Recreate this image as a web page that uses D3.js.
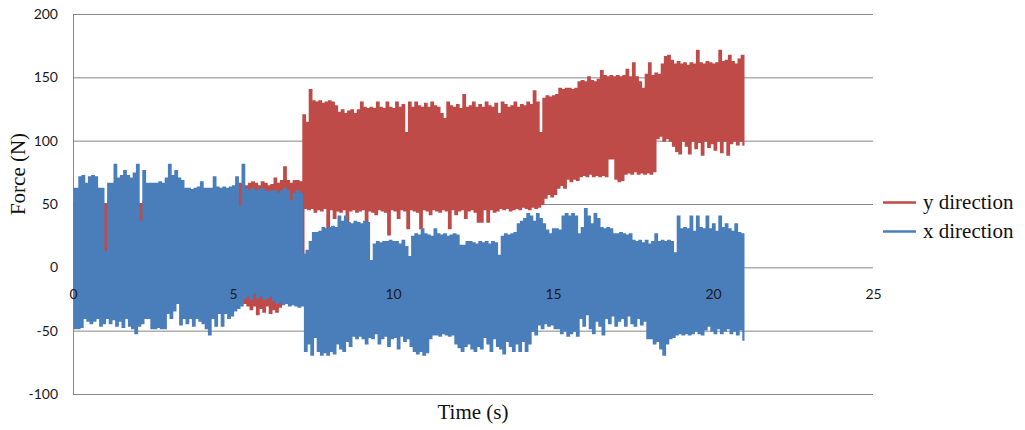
<!DOCTYPE html>
<html>
<head>
<meta charset="utf-8">
<script src="https://cdn.jsdelivr.net/npm/d3@7"></script>
<style>
  body { margin: 0; background: #fff; }
  svg { display: block; }
</style>
</head>
<body>
<svg id="chart" width="1025" height="430"></svg>
<script>
// Axis ticks and series names
const yTicks = [-100, -50, 0, 50, 100, 150, 200];
const xTicks = [0, 5, 10, 15, 20, 25];
const seriesNames = ["y direction", "x direction"];

// Force samples every 0.1 s (0.0 – 20.9 s). Each sample holds the peak (high)
// and trough (low) of the rapidly oscillating signal, in newtons.
const sampleStep = 0.1;

const yHigh = [
  50, 52, 48, 50, 51, 49, 50, 52, 50, 48,
  50, 51, 49, 50, 52, 50, 48, 50, 51, 50,
  49, 50, 52, 50, 48, 50, 51, 49, 50, 52,
  50, 48, 50, 51, 50, 49, 52, 50, 48, 50,
  51, 50, 49, 52, 50, 48, 50, 51, 50, 52,
  55, 58, 66, 62, 64, 66, 67, 66, 64, 67,
  66, 64, 65, 70, 66, 68, 79, 68, 66, 68,
  68, 67, 120, 114, 140, 131, 130, 131, 129, 130,
  131, 130, 127, 122, 124, 121, 123, 124, 121, 124,
  130, 126, 125, 126, 125, 130, 126, 125, 130, 126,
  125, 130, 126, 128, 106, 130, 126, 130, 127, 126,
  129, 126, 130, 127, 126, 121, 117, 130, 127, 126,
  128, 125, 136, 126, 127, 130, 126, 128, 126, 130,
  127, 126, 129, 121, 130, 128, 126, 127, 130, 126,
  128, 127, 130, 128, 139, 130, 106, 133, 135, 134,
  135, 136, 141, 140, 141, 141, 140, 141, 146, 147,
  146, 150, 147, 146, 148, 155, 151, 150, 151, 150,
  151, 150, 151, 156, 150, 161, 150, 146, 141, 152,
  161, 151, 153, 152, 160, 166, 167, 163, 160, 162,
  160, 161, 159, 161, 160, 171, 161, 160, 162, 161,
  160, 161, 171, 162, 163, 167, 162, 160, 164, 167
];

const yLow = [
  -26, -24, -27, -25, -23, -26, -28, -24, -25, -27,
  -24, -26, -25, -28, -24, -23, -26, -25, -27, -24,
  -25, -27, -24, -26, -25, -23, -27, -26, -24, -25,
  -27, -24, -22, -26, -25, -27, -24, -26, -25, -23,
  -26, -24, -27, -25, -26, -24, -25, -27, -24, -26,
  -24, -25, -26, -28, -30, -33, -30, -37, -32, -35,
  -30, -36, -33, -35, -31, -26, -27, -26, -28, -26,
  -27, -26, 47, 46, 47, 44, 46, 45, 47, 31,
  46, 39, 45, 44, 46, 36, 45, 46, 44, 45,
  46, 36, 45, 44, 42, 46, 45, 44, 26, 46,
  45, 39, 46, 45, 31, 46, 45, 44, 31, 46,
  45, 42, 46, 45, 44, 46, 45, 31, 46, 42,
  45, 46, 39, 45, 46, 44, 36, 36, 46, 36,
  46, 44, 45, 47, 46, 47, 45, 46, 47, 46,
  48, 47, 46, 48, 47, 48, 50, 55, 58, 56,
  58, 63, 65, 63, 70, 68, 70, 69, 72, 73,
  72, 74, 72, 73, 72, 73, 72, 86, 86, 70,
  68, 69, 74, 75, 74, 76, 74, 75, 74, 75,
  74, 76, 102, 104, 100, 102, 100, 96, 92, 90,
  100, 96, 90, 100, 94, 99, 89, 100, 95, 98,
  93, 100, 91, 100, 89, 98, 100, 97, 100, 96
];

const xHigh = [
  62, 62, 71, 72, 66, 71, 72, 71, 62, 62,
  12, 66, 66, 81, 70, 72, 76, 72, 70, 74,
  81, 36, 76, 66, 66, 66, 66, 67, 66, 70,
  81, 72, 76, 70, 68, 62, 62, 61, 62, 63,
  67, 62, 62, 62, 71, 63, 62, 63, 62, 63,
  64, 71, 48, 81, 62, 60, 62, 60, 61, 62,
  60, 59, 60, 60, 58, 60, 62, 60, 52, 58,
  60, 58, 10, 13, 20, 27, 27, 28, 31, 30,
  31, 32, 31, 40, 36, 40, 35, 34, 36, 35,
  34, 36, 35, 5, 18, 20, 19, 20, 20, 21,
  20, 20, 18, 21, 16, 8, 24, 26, 25, 30,
  26, 25, 24, 30, 26, 25, 26, 24, 25, 26,
  25, 17, 17, 20, 20, 19, 18, 20, 19, 20,
  18, 20, 19, 9, 24, 26, 25, 26, 27, 34,
  36, 38, 42, 40, 36, 42, 38, 34, 29, 26,
  30, 30, 29, 40, 42, 40, 42, 40, 26, 31,
  46, 40, 34, 42, 38, 31, 30, 31, 30, 26,
  26, 27, 26, 25, 26, 21, 20, 21, 19, 21,
  18, 20, 26, 20, 21, 20, 21, 20, 11, 40,
  30, 31, 30, 40, 28, 40, 31, 30, 40, 30,
  34, 28, 40, 31, 34, 30, 28, 34, 27, 26
];

const xLow = [
  -48, -48, -47, -40, -42, -44, -42, -40, -46, -44,
  -40, -44, -41, -46, -42, -47, -40, -46, -48, -52,
  -46, -44, -40, -40, -48, -48, -47, -48, -48, -36,
  -40, -34, -28, -45, -40, -44, -40, -46, -40, -42,
  -44, -48, -53, -40, -46, -36, -46, -36, -40, -38,
  -34, -32, -30, -24, -22, -25, -20, -24, -22, -25,
  -24, -22, -26, -28, -27, -29, -28, -30, -29, -30,
  -31, -30, -66, -60, -69, -55, -66, -69, -67, -69,
  -66, -68, -60, -64, -66, -58, -62, -54, -56, -54,
  -56, -60, -55, -56, -52, -60, -56, -54, -62, -56,
  -55, -64, -54, -58, -56, -62, -66, -68, -66, -69,
  -67, -56, -53, -53, -54, -52, -53, -54, -53, -60,
  -63, -66, -62, -60, -64, -66, -62, -64, -55, -60,
  -66, -56, -62, -64, -68, -58, -62, -66, -60, -66,
  -58, -66, -60, -50, -53, -45, -48, -44, -46, -45,
  -48, -48, -52, -50, -54, -52, -50, -54, -40, -46,
  -37, -48, -52, -42, -46, -53, -40, -44, -38, -46,
  -42, -40, -46, -38, -44, -46, -40, -45, -42, -56,
  -56, -60, -58, -64, -69, -60, -56, -55, -53, -52,
  -53, -52, -53, -52, -50, -52, -53, -49, -46, -50,
  -52, -48, -52, -50, -48, -52, -50, -53, -49, -58
];

const colors = { y: "#BE4B48", x: "#4A7EBB" };
const gridColor = "#878787";

const svg = d3.select("#chart");

const x = d3.scaleLinear().domain([0, 25]).range([73, 873]);
const y = d3.scaleLinear().domain([-100, 200]).range([394, 14]);

// Horizontal gridlines + left axis line, with value labels
const yAxis = svg.append("g")
  .attr("transform", `translate(${x(0)},0)`)
  .call(d3.axisLeft(y)
    .tickValues(yTicks)
    .tickFormat(d => String(d))
    .tickSize(-(x(25) - x(0)))
    .tickSizeOuter(0)
    .tickPadding(15));
yAxis.selectAll(".tick line").attr("stroke", gridColor);
yAxis.select(".domain").attr("stroke", gridColor);
yAxis.selectAll(".tick text")
  .attr("fill", "#1a1a1a")
  .style("font-family", "Lato, 'Open Sans', sans-serif")
  .style("font-size", "14px");

// Each sample becomes a peak point followed by a trough point half a step later
function oscillation(high, low) {
  return high.flatMap((h, i) => [
    [i * sampleStep, h],
    [i * sampleStep + sampleStep / 2, low[i]]
  ]);
}

const line = d3.line()
  .x(d => x(d[0]))
  .y(d => y(d[1]))
  .curve(d3.curveStepAfter);

const plot = svg.append("g");
plot.append("path")
  .datum(oscillation(yHigh, yLow))
  .attr("d", line)
  .attr("fill", "none")
  .attr("stroke", colors.y)
  .attr("stroke-width", 2.2);
plot.append("path")
  .datum(oscillation(xHigh, xLow))
  .attr("d", line)
  .attr("fill", "none")
  .attr("stroke", colors.x)
  .attr("stroke-width", 2.2);

// Time labels sit along the zero line, over the traces
const xAxis = svg.append("g")
  .attr("transform", `translate(0,${y(0)})`)
  .call(d3.axisBottom(x).tickValues(xTicks).tickFormat(d => String(d)).tickSize(0).tickPadding(22));
xAxis.select(".domain").remove();
xAxis.selectAll(".tick text")
  .attr("fill", "#1a1a1a")
  .style("font-family", "Lato, 'Open Sans', sans-serif")
  .style("font-size", "14px");

// Axis titles
const serif = "'Liberation Serif', 'Times New Roman', serif";
svg.append("text")
  .attr("transform", `translate(25,174) rotate(-90)`)
  .attr("text-anchor", "middle")
  .style("font-family", serif)
  .style("font-size", "21px")
  .attr("fill", "#111")
  .text("Force (N)");
svg.append("text")
  .attr("x", 473).attr("y", 419)
  .attr("text-anchor", "middle")
  .style("font-family", serif)
  .style("font-size", "21px")
  .attr("fill", "#111")
  .text("Time (s)");

// Legend
const legend = svg.append("g");
const legendItems = [
  { name: seriesNames[0], color: colors.y, yLine: 202.5 },
  { name: seriesNames[1], color: colors.x, yLine: 231.5 }
];
legendItems.forEach(item => {
  legend.append("line")
    .attr("x1", 883).attr("x2", 916)
    .attr("y1", item.yLine).attr("y2", item.yLine)
    .attr("stroke", item.color).attr("stroke-width", 2.4);
  legend.append("text")
    .attr("x", 923).attr("y", item.yLine + 6)
    .style("font-family", serif)
    .style("font-size", "21px")
    .attr("fill", "#111")
    .text(item.name);
});
</script>
</body>
</html>
